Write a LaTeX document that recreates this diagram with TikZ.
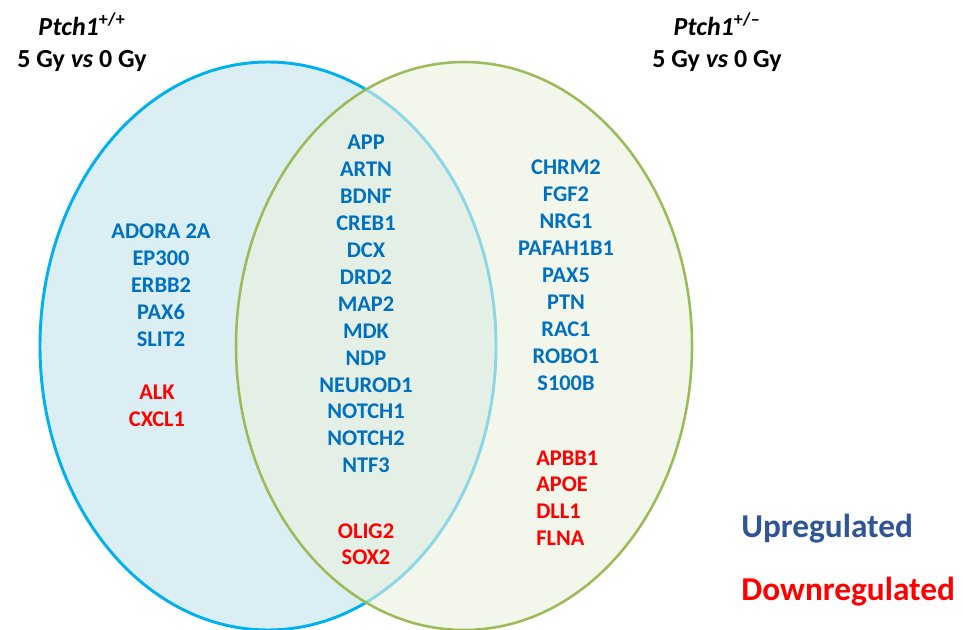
\documentclass[tikz,border=0pt]{standalone}
\usepackage{fontspec}
\setmainfont{Carlito}
\usepackage{tikz}
\usepackage{xcolor}
\definecolor{wtline}{HTML}{00B0F0}
\definecolor{wtfill}{HTML}{DAEEF3}
\definecolor{hetline}{HTML}{9BBB59}
\definecolor{hetfill}{HTML}{EBF1DE}
\definecolor{upblue}{HTML}{0070C0}
\definecolor{legblue}{HTML}{2F5597}
\definecolor{downred}{HTML}{FF0000}
\tikzset{
  upgene/.style={inner sep=0pt,anchor=base,text=upblue,font=\bfseries\fontsize{16.8}{20}\selectfont},
  downgene/.style={upgene,text=downred},
  ttl/.style={inner sep=0pt,anchor=base,font=\bfseries\fontsize{19.5}{23}\selectfont},
  legend/.style={inner sep=0pt,anchor=base west,font=\bfseries\fontsize{25}{30}\selectfont}
}

\begin{document}
\begin{tikzpicture}[x=0.75pt,y=-0.75pt]
		\useasboundingbox (0,0) rectangle (963,630);
		\begin{scope}
			% the two sets
			\coordinate (wt) at (268,346);
			\coordinate (het) at (464,346);
			\draw[draw=wtline,fill=wtfill,line width=2.2pt] (wt) ellipse [x radius=171pt, y radius=213pt];
			\fill[hetfill,fill opacity=0.6] (het) ellipse [x radius=171pt, y radius=213pt];
			\draw[hetline,line width=1.9pt] (het) ellipse [x radius=171pt, y radius=213pt];
		\end{scope}
		% titles
		\node[ttl] (wttitle) at (82,36) {\textit{Ptch1}\textsuperscript{+/+}};
		\node[ttl] (wtdose) at (82,68) {5 Gy \textit{vs} 0 Gy};
		\node[ttl] (hettitle) at (717,36) {\textit{Ptch1}\textsuperscript{+/--}};
		\node[ttl] (hetdose) at (717,68) {5 Gy \textit{vs} 0 Gy};
		% genes
		\foreach \Gene [count=\i] in {ADORA 2A,EP300,ERBB2,PAX6,SLIT2}
			\node[upgene] (wtup\i) at (161,{212.1+26.9*\i}) {\Gene};
		\foreach \Gene [count=\i] in {ALK,CXCL1}
			\node[downgene] (wtdown\i) at (157,{373.1+26.9*\i}) {\Gene};
		\foreach \Gene [count=\i] in {APP,ARTN,BDNF,CREB1,DCX,DRD2,MAP2,MDK,NDP,NEUROD1,NOTCH1,NOTCH2,NTF3}
			\node[upgene] (bothup\i) at (366,{123.1+26.9*\i}) {\Gene};
		\foreach \Gene [count=\i] in {OLIG2,SOX2}
			\node[downgene] (bothdown\i) at (366,{511.1+26.9*\i}) {\Gene};
		\foreach \Gene [count=\i] in {CHRM2,FGF2,NRG1,PAFAH1B1,PAX5,PTN,RAC1,ROBO1,S100B}
			\node[upgene] (hetup\i) at (566,{148.1+26.9*\i}) {\Gene};
		\foreach \Gene [count=\i] in {APBB1,APOE,DLL1,FLNA}
			\node[downgene,anchor=base west] (hetdown\i) at (536,{438.1+26.9*\i}) {\Gene};
		% key
		\node[legend,text=legblue] (up) at (741,537) {Upregulated};
		\node[legend,text=downred] (down) at (741,600) {Downregulated};
	\end{tikzpicture}
\end{document}
